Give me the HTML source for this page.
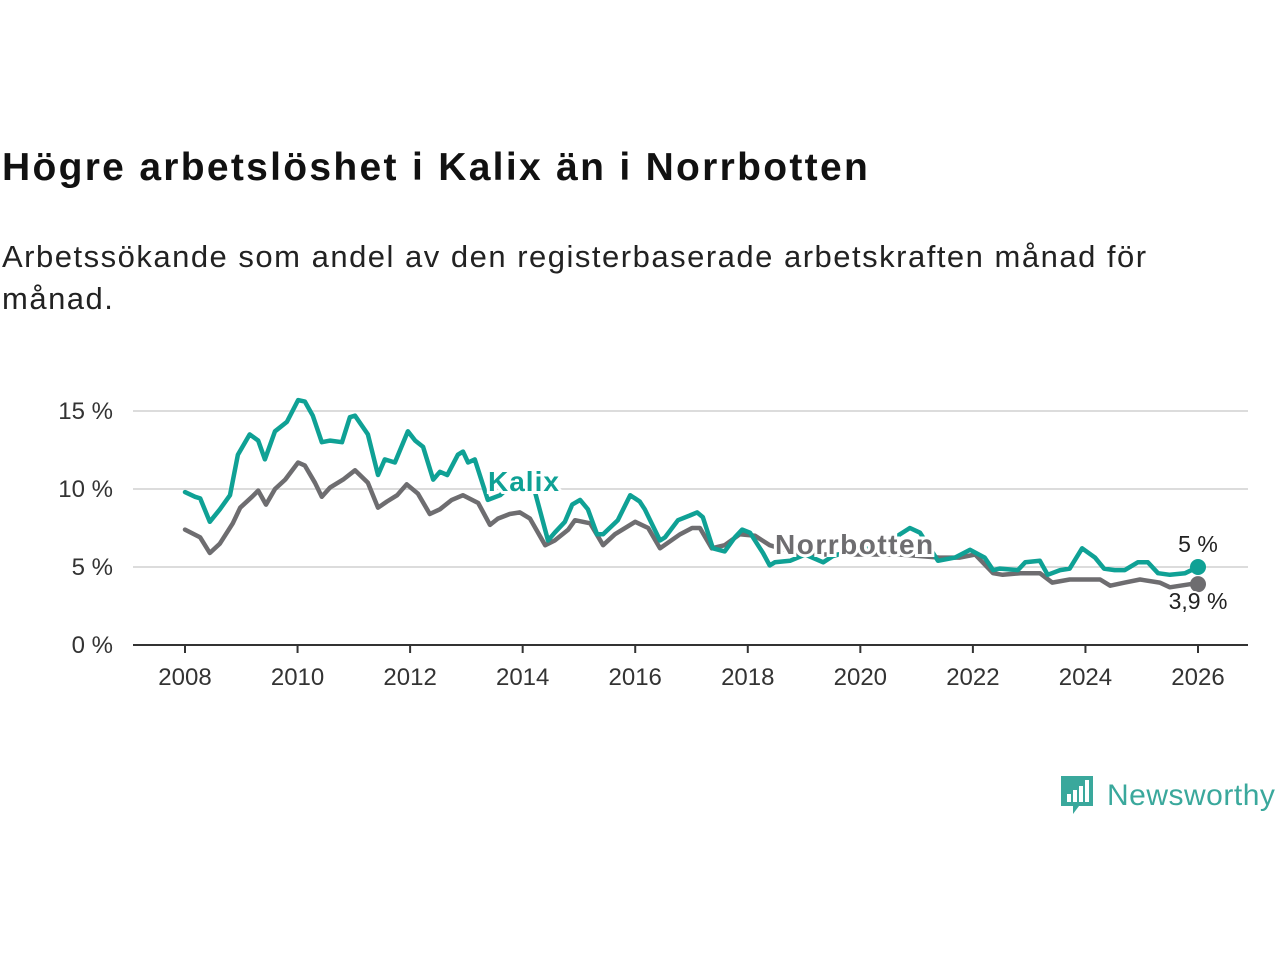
<!DOCTYPE html>
<html><head><meta charset="utf-8"><style>
html,body{margin:0;padding:0;background:#fff;width:1280px;height:960px;overflow:hidden;font-family:"Liberation Sans","DejaVu Sans",sans-serif;}
#title{position:absolute;left:2px;top:146px;font-size:39px;letter-spacing:2.3px;font-weight:bold;color:#111;margin:0;white-space:nowrap;}
#sub{position:absolute;left:2px;top:236px;font-size:31px;letter-spacing:1.5px;line-height:42px;color:#222;width:1200px;margin:0;}
svg{position:absolute;left:0;top:0;}
</style></head><body>
<h1 id="title">Högre arbetslöshet i Kalix än i Norrbotten</h1>
<p id="sub">Arbetssökande som andel av den registerbaserade arbetskraften månad för månad.</p>
<svg id="chart" width="1280" height="960"></svg>
<script>
const kalixYears=[2008.00,2008.18,2008.27,2008.44,2008.62,2008.80,2008.94,2009.15,2009.30,2009.42,2009.60,2009.81,2010.01,2010.13,2010.27,2010.43,2010.58,2010.79,2010.93,2011.02,2011.25,2011.43,2011.55,2011.73,2011.96,2012.09,2012.23,2012.41,2012.53,2012.66,2012.85,2012.94,2013.03,2013.15,2013.38,2013.60,2013.81,2014.04,2014.22,2014.45,2014.57,2014.75,2014.88,2015.02,2015.16,2015.32,2015.43,2015.69,2015.91,2016.08,2016.17,2016.44,2016.53,2016.76,2016.97,2017.10,2017.20,2017.38,2017.59,2017.77,2017.90,2018.04,2018.27,2018.39,2018.48,2018.75,2019.02,2019.34,2019.51,2019.82,2020.17,2020.53,2020.88,2021.06,2021.38,2021.68,2021.95,2022.21,2022.36,2022.48,2022.80,2022.93,2023.19,2023.33,2023.55,2023.72,2023.94,2024.17,2024.33,2024.52,2024.70,2024.93,2025.11,2025.29,2025.50,2025.77,2026.00];
const kalixValues=[9.8,9.5,9.4,7.9,8.7,9.6,12.2,13.5,13.1,11.9,13.7,14.3,15.7,15.6,14.7,13.0,13.1,13.0,14.6,14.7,13.5,10.9,11.9,11.7,13.7,13.1,12.7,10.6,11.1,10.9,12.2,12.4,11.7,11.9,9.3,9.6,10.3,10.4,9.8,6.7,7.2,7.9,9.0,9.3,8.7,7.1,7.1,8.0,9.6,9.2,8.7,6.7,6.9,8.0,8.3,8.5,8.2,6.2,6.0,6.9,7.4,7.2,5.9,5.1,5.3,5.4,5.8,5.3,5.7,6.0,6.2,6.7,7.5,7.2,5.4,5.6,6.1,5.6,4.8,4.9,4.8,5.3,5.4,4.5,4.8,4.9,6.2,5.6,4.9,4.8,4.8,5.3,5.3,4.6,4.5,4.6,5.0];
const norrYears=[2008.00,2008.27,2008.44,2008.62,2008.85,2008.98,2009.19,2009.30,2009.44,2009.60,2009.78,2010.01,2010.13,2010.31,2010.43,2010.58,2010.81,2011.02,2011.25,2011.43,2011.59,2011.77,2011.94,2012.14,2012.35,2012.53,2012.74,2012.94,2013.21,2013.42,2013.56,2013.77,2013.95,2014.13,2014.40,2014.57,2014.81,2014.93,2015.20,2015.43,2015.64,2016.00,2016.23,2016.44,2016.80,2017.01,2017.15,2017.36,2017.59,2017.86,2018.13,2018.39,2018.93,2019.82,2020.70,2021.41,2021.77,2022.04,2022.36,2022.53,2022.84,2023.19,2023.41,2023.72,2024.26,2024.44,2024.70,2024.97,2025.32,2025.50,2025.86,2026.00];
const norrValues=[7.4,6.9,5.9,6.5,7.8,8.8,9.5,9.9,9.0,10.0,10.6,11.7,11.5,10.4,9.5,10.1,10.6,11.2,10.4,8.8,9.2,9.6,10.3,9.7,8.4,8.7,9.3,9.6,9.1,7.7,8.1,8.4,8.5,8.1,6.4,6.7,7.4,8.0,7.8,6.4,7.1,7.9,7.5,6.2,7.1,7.5,7.5,6.2,6.4,7.1,7.0,6.4,5.8,5.8,5.8,5.6,5.6,5.8,4.6,4.5,4.6,4.6,4.0,4.2,4.2,3.8,4.0,4.2,4.0,3.7,3.9,3.9];
const yTicks=[0,5,10,15];
const yTickLabels=["0 %","5 %","10 %","15 %"];
const xTicks=[2008,2010,2012,2014,2016,2018,2020,2022,2024,2026];

const NS="http://www.w3.org/2000/svg";
const svg=document.getElementById('chart');
const X=y=>185+(y-2008)*(1198-185)/18;
const Y=v=>645-v*(645-411)/15;
function mk(t,a,p){const e=document.createElementNS(NS,t);for(const k in a)e.setAttribute(k,a[k]);(p||svg).appendChild(e);return e;}
yTicks.forEach((t,i)=>{
  if(t>0){const g=mk('line',{x1:133,x2:1248,y1:Y(t),y2:Y(t),stroke:'#dcdcdc','stroke-width':2});
  
  }
  const l=mk('text',{x:113,y:Y(t)+8,'text-anchor':'end','font-size':24,fill:'#333'});
  l.textContent=yTickLabels[i];
  
  
});
const ax=mk('line',{x1:133,x2:1248,y1:645,y2:645,stroke:'#333','stroke-width':2});


xTicks.forEach(t=>{
  mk('line',{x1:X(t),x2:X(t),y1:645,y2:653,stroke:'#333','stroke-width':2});
  const l=mk('text',{x:X(t),y:685,'text-anchor':'middle','font-size':24,fill:'#333'});
  l.textContent=t;
  
  
});
function line(ys,vs,col,name){
  const d=ys.map((y,i)=>(i?'L':'M')+X(y).toFixed(1)+','+Y(vs[i]).toFixed(1)).join('');
  const p=mk('path',{d:d,fill:'none',stroke:col,'stroke-width':4.5,'stroke-linejoin':'round','stroke-linecap':'round'});
  
  
  const c=mk('circle',{cx:X(ys[ys.length-1]),cy:Y(vs[vs.length-1]),r:8,fill:col});
  
  
}
line(norrYears,norrValues,'#6e6d70','norrbotten-line');
line(kalixYears,kalixValues,'#0fa195','kalix-line');
function lab(txt,x,y,col,size,w,name,anchor,ls){
  const t=mk('text',{x:x,y:y,'font-size':size,'font-weight':w,fill:col,stroke:'#fff','stroke-width':w==='bold'?6:4,'paint-order':'stroke','text-anchor':anchor||'start','letter-spacing':ls||0});
  t.textContent=txt;
  
  
}
lab('Kalix',488,491,'#0fa195',28,'bold','kalix-label','start',1);
lab('Norrbotten',775,554,'#6e6d70',28,'bold','norrbotten-label','start',1.5);
lab(kalixValues[kalixValues.length-1]+' %',1198,552,'#222',23,'normal','kalix-end-value','middle');
lab(String(norrValues[norrValues.length-1]).replace('.',',')+' %',1198,609,'#222',23,'normal','norrbotten-end-value','middle');
</script>
<div style="position:absolute;left:1059px;top:774px;height:44px;display:flex;align-items:center;">
<svg width="36" height="44" viewBox="0 0 36 44" style="position:static"><path d="M2 2h32v30H20l-6 8v-8H2z" fill="#3aa89c"/><rect x="8" y="20" width="4" height="8" fill="#fff"/><rect x="14" y="16" width="4" height="12" fill="#fff"/><rect x="20" y="12" width="4" height="16" fill="#fff"/><rect x="26" y="6" width="4" height="22" fill="#fff"/></svg>
<span style="font-size:30px;color:#3aa89c;margin-left:12px;letter-spacing:0.5px;">Newsworthy</span></div>
</body></html>
